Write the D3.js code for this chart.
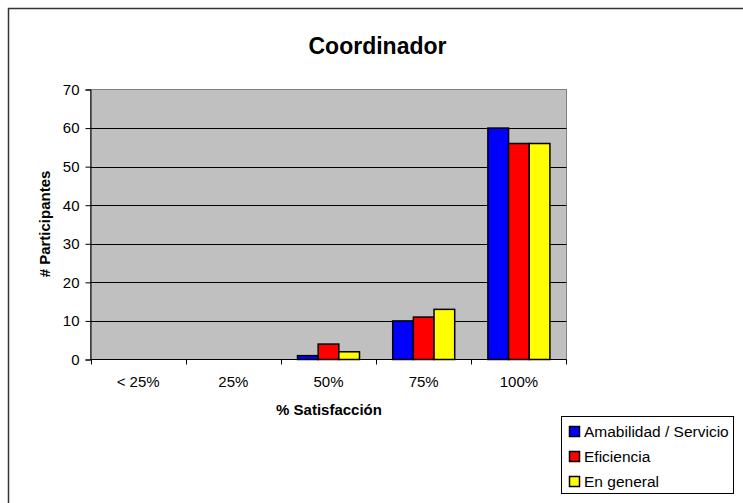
<!DOCTYPE html>
<html>
<head>
<meta charset="utf-8">
<script src="https://cdn.jsdelivr.net/npm/d3@7"></script>
<style>
  body { margin: 0; background: #fff; }
  text { font-family: "Liberation Sans", Arial, sans-serif; }
</style>
</head>
<body>
<div id="canvas"></div>
<script>
const categories = ["< 25%", "25%", "50%", "75%", "100%"]
const seriesNames = ["Amabilidad / Servicio", "Eficiencia", "En general"]
const amabilidad = [0, 0, 1, 10, 60]
const eficiencia = [0, 0, 4, 11, 56]
const enGeneral = [0, 0, 2, 13, 56]
const colors = ["#0000FF", "#FF0000", "#FFFF00"]
const yTicks = [0, 10, 20, 30, 40, 50, 60, 70]

const seriesValues = [amabilidad, eficiencia, enGeneral]
const data = categories.map((c, i) => ({
    cat: c,
    values: seriesNames.map((s, j) => ({ series: s, value: seriesValues[j][i], color: colors[j] }))
}))

const width = 743
const height = 503
const plot = { left: 90.5, top: 89.5, right: 566.5, bottom: 359.5 }
const font = "Liberation Sans, Arial, sans-serif"

const svg = d3.select("#canvas").append("svg")
    .attr("width", width)
    .attr("height", height)

// outer chart border (only top/left visible in the frame)
svg.append("rect")
    .attr("x", 8.5).attr("y", 8.5)
    .attr("width", 800).attr("height", 600)
    .attr("fill", "#fff")
    .attr("stroke", "#333")
    .attr("stroke-width", 1.5)

svg.append("text")
    .attr("x", 377.5).attr("y", 54)
    .attr("text-anchor", "middle")
    .style("font-size", "23px")
    .style("font-weight", "bold")
    .text("Coordinador")

const x = d3.scaleBand()
    .domain(categories)
    .range([plot.left, plot.right])

const y = d3.scaleLinear()
    .domain([0, 70])
    .range([plot.bottom, plot.top])

const x1 = d3.scaleBand()
    .domain(seriesNames)
    .range([0, 62])

svg.append("rect")
    .attr("x", plot.left).attr("y", plot.top)
    .attr("width", plot.right - plot.left)
    .attr("height", plot.bottom - plot.top)
    .attr("fill", "#C0C0C0")
    .attr("stroke", "#808080")
    .attr("stroke-width", 1)

// gridlines
svg.append("g")
    .selectAll("line")
    .data(yTicks.slice(1, -1))
    .enter()
    .append("line")
    .attr("x1", plot.left).attr("x2", plot.right)
    .attr("y1", d => Math.round(y(d)) + 0.5)
    .attr("y2", d => Math.round(y(d)) + 0.5)
    .attr("stroke", "#000")
    .attr("stroke-width", 1)

// bars
const groups = svg.append("g")
    .selectAll("g")
    .data(data)
    .enter()
    .append("g")
    .attr("transform", d => `translate(${x(d.cat) + (x.bandwidth() - 62) / 2}, 0)`)

groups.selectAll("rect")
    .data(d => d.values.filter(v => v.value > 0))
    .enter()
    .append("rect")
    .attr("x", d => x1(d.series))
    .attr("y", d => y(d.value))
    .attr("width", x1.bandwidth())
    .attr("height", d => y(0) - y(d.value))
    .attr("fill", d => d.color)
    .attr("stroke", "#000")
    .attr("stroke-width", 1.5)

// axes
const yAxis = svg.append("g")
    .attr("transform", `translate(${plot.left}, 0)`)
    .call(d3.axisLeft(y).tickValues(yTicks).tickSize(5).tickPadding(6))
yAxis.select(".domain").attr("stroke", "#000")
yAxis.selectAll("text").attr("font-size", 15).attr("fill", "#000")
    .attr("font-family", font)

const xAxis = svg.append("g")
    .attr("transform", `translate(0, ${plot.bottom})`)
    .call(d3.axisBottom(x).tickSize(0).tickPadding(17))
xAxis.select(".domain").remove()
xAxis.append("line")
    .attr("x1", plot.left).attr("x2", plot.right)
    .attr("stroke", "#000")
xAxis.selectAll("text").attr("font-size", 15).attr("fill", "#000")
    .attr("font-family", font)
xAxis.append("g")
    .selectAll("line")
    .data(categories)
    .enter()
    .append("line")
    .attr("x1", d => Math.round(x(d)) + 0.5)
    .attr("x2", d => Math.round(x(d)) + 0.5)
    .attr("y1", 0).attr("y2", 5)
    .attr("stroke", "#000")
xAxis.append("line")
    .attr("x1", plot.right).attr("x2", plot.right)
    .attr("y1", 0).attr("y2", 5)
    .attr("stroke", "#000")

svg.append("text")
    .attr("x", 329).attr("y", 415)
    .attr("text-anchor", "middle")
    .style("font-size", "15px")
    .style("font-weight", "bold")
    .text("% Satisfacción")

svg.append("text")
    .attr("transform", "translate(50, 224) rotate(-90)")
    .attr("text-anchor", "middle")
    .style("font-size", "15px")
    .style("font-weight", "bold")
    .text("# Participantes")

// legend
const legend = svg.append("g")
legend.append("rect")
    .attr("x", 561.5).attr("y", 416.5)
    .attr("width", 172).attr("height", 77)
    .attr("fill", "#fff")
    .attr("stroke", "#000")
    .attr("stroke-width", 1)

const items = legend.selectAll("g.item")
    .data(seriesNames)
    .enter()
    .append("g")
    .attr("class", "item")
    .attr("transform", (d, i) => `translate(569, ${426 + i * 25})`)

items.append("rect")
    .attr("x", 0.5).attr("y", 0.5)
    .attr("width", 10).attr("height", 10)
    .attr("fill", (d, i) => colors[i])
    .attr("stroke", "#000")
    .attr("stroke-width", 1.5)

items.append("text")
    .attr("x", 15).attr("y", 10.5)
    .style("font-size", "15.5px")
    .text(d => d)
</script>
</body>
</html>
